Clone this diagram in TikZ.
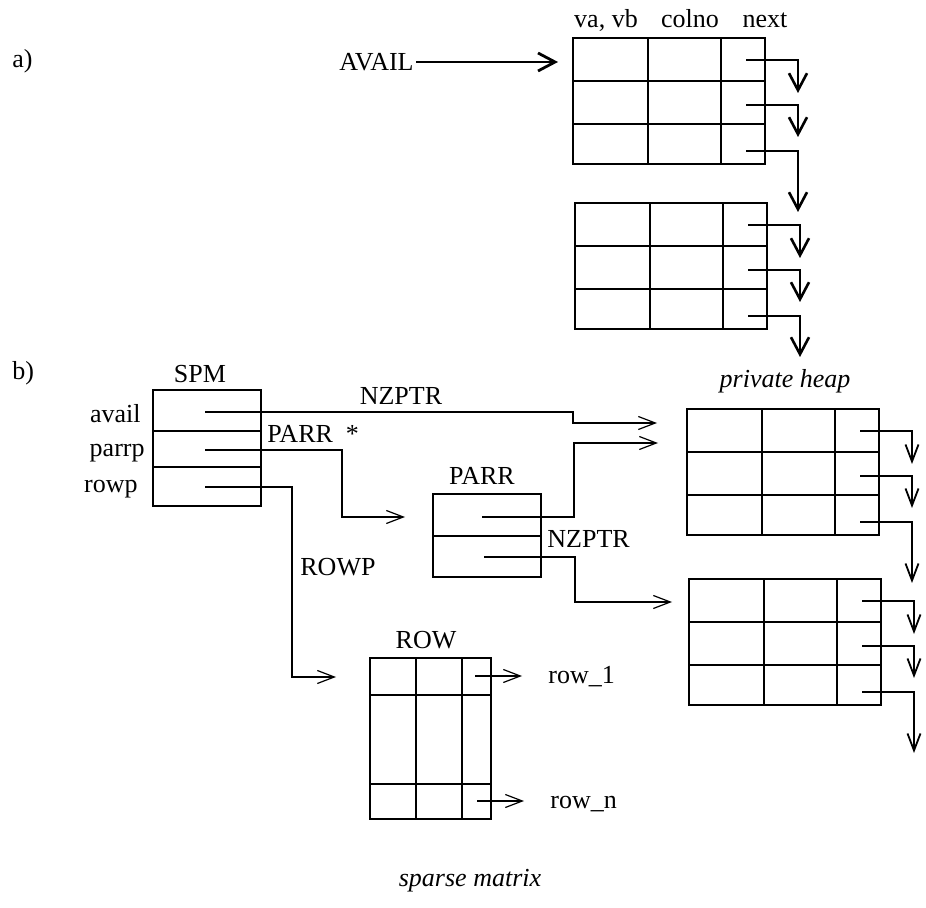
\documentclass[tikz,border=0pt]{standalone}
\usepackage{fontspec}
\setmainfont{Liberation Serif}
\usepackage{tikz}
\usetikzlibrary{arrows.meta}

\tikzset{
  tab/.style={line width=1.1pt},
  heaptab/.pic={
    \draw (0,0) rectangle (192,126);
    \draw (75,0) -- (75,126) (148,0) -- (148,126)
      (0,43) -- (192,43) (0,86) -- (192,86);
    \coordinate (-in) at (-15,24);
    \coordinate (-p1) at (173,22);
    \coordinate (-p2) at (173,67);
    \coordinate (-p3) at (173,113);
    \coordinate (-e1) at (225,55);
    \coordinate (-e2) at (225,99);
    \coordinate (-e3) at (225,174);
  }
}

\begin{document}
\begin{tikzpicture}[x=0.5pt,y=-0.5pt,
  every node/.style={inner sep=0pt,font=\fontsize{13}{15}\selectfont},
  nexta/.style={line width=1.3pt,-{Straight Barb[length=8.5pt,width=9pt]}},
  nextb/.style={line width=0.9pt,-{Straight Barb[length=8.5pt,width=6.5pt]}},
  ptr/.style={line width=0.6pt,-{Straight Barb[length=8.5pt,width=6.5pt]}}]
\useasboundingbox (0,0) rectangle (926,908);

% a) free list
\node[anchor=base west] (tagA) at (12,68) {a)};
\node[anchor=base] (hva) at (606,28) {va, vb};
\node[anchor=base] (hcol) at (690,28) {colno};
\node[anchor=base] (hnext) at (765,28) {next};
\pic[line width=1.4pt] (ha1) at (573,38) {heaptab};
\pic[line width=1.4pt] (ha2) at (575,203) {heaptab};
\node[anchor=east,inner sep=1pt] (avail) at (416,62) {AVAIL};
\draw[nexta,line width=1.4pt] (avail.east) -- (ha1-in);
\foreach \r in {1,2,3} \draw[nexta] (ha1-p\r) -| (ha1-e\r);
\foreach \r in {1,2} \draw[nexta] (ha2-p\r) -| (ha2-e\r);
\coordinate (hend) at (800,357);
\draw[nexta] (ha2-p3) -| (hend);
\node[anchor=base,font=\fontsize{13}{15}\selectfont\itshape] (heap) at (785,388) {private heap};

% b) sparse matrix
\node[anchor=base west] (tagB) at (12,380) {b)};
\node[anchor=base] (spm) at (200,383) {SPM};
\draw[tab] (153,390) rectangle (261,506) (153,431) -- (261,431) (153,467) -- (261,467);
\node[anchor=base east] (lavail) at (141,423) {avail};
\node[anchor=base east] (lparrp) at (145,457) {parrp};
\node[anchor=base east] (lrowp) at (138,493) {rowp};
\coordinate (spm-p1) at (205,412);
\coordinate (spm-p2) at (205,450);
\coordinate (spm-p3) at (205,487);

\node[anchor=base] (parr) at (482,485) {PARR};
\draw[tab] (433,494) rectangle (541,577) (433,536) -- (541,536);
\coordinate (parr-p1) at (482,517);
\coordinate (parr-p2) at (484,557);
\coordinate (parr-in) at (405,517);

\node[anchor=base] (row) at (426,648) {ROW};
\draw[tab] (370,658) rectangle (491,819) (370,695) -- (491,695) (370,784) -- (491,784)
  (416,658) -- (416,819) (462,658) -- (462,819);
\coordinate (row-p1) at (475,676);
\coordinate (row-p2) at (477,801);
\coordinate (row-in) at (336,677);
\node[anchor=base west] (row1) at (548,683) {row\_1};
\node[anchor=base west] (rown) at (550,808) {row\_n};

\pic[line width=1.2pt] (hb1) at (687,409) {heaptab};
\pic[line width=1.2pt] (hb2) at (689,579) {heaptab};
\coordinate (hb1-in1) at (657,423);
\coordinate (hb1-in2) at (658,443);
\coordinate (hb2-in) at (672,602);
\foreach \r in {1,2,3} \draw[nextb] (hb1-p\r) -| (hb1-e\r);
\foreach \r in {1,2,3} \draw[nextb] (hb2-p\r) -| (hb2-e\r);

\draw[ptr] (spm-p1) -- ++(368,0) |- (hb1-in1);
\draw[ptr] (spm-p2) -- ++(137,0) |- (parr-in);
\draw[ptr] (spm-p3) -- ++(87,0) |- (row-in);
\draw[ptr] (parr-p1) -- ++(92,0) |- (hb1-in2);
\draw[ptr] (parr-p2) -- ++(91,0) |- (hb2-in);
\draw[ptr,shorten >=13pt] (row-p1) -- (row-p1 -| row1.west);
\draw[ptr,shorten >=13pt] (row-p2) -- (row-p2 -| rown.west);

\node[anchor=base] (nz1) at (401,405) {NZPTR};
\node[anchor=base west] (parrlab) at (267,443) {PARR\enspace*};
\node[anchor=base west] (rowplab) at (300,575) {ROWP};
\node[anchor=base west] (nz2) at (547,548) {NZPTR};
\node[anchor=base,font=\fontsize{13}{15}\selectfont\itshape] (sparse) at (470,886) {sparse matrix};
\end{tikzpicture}
\end{document}
